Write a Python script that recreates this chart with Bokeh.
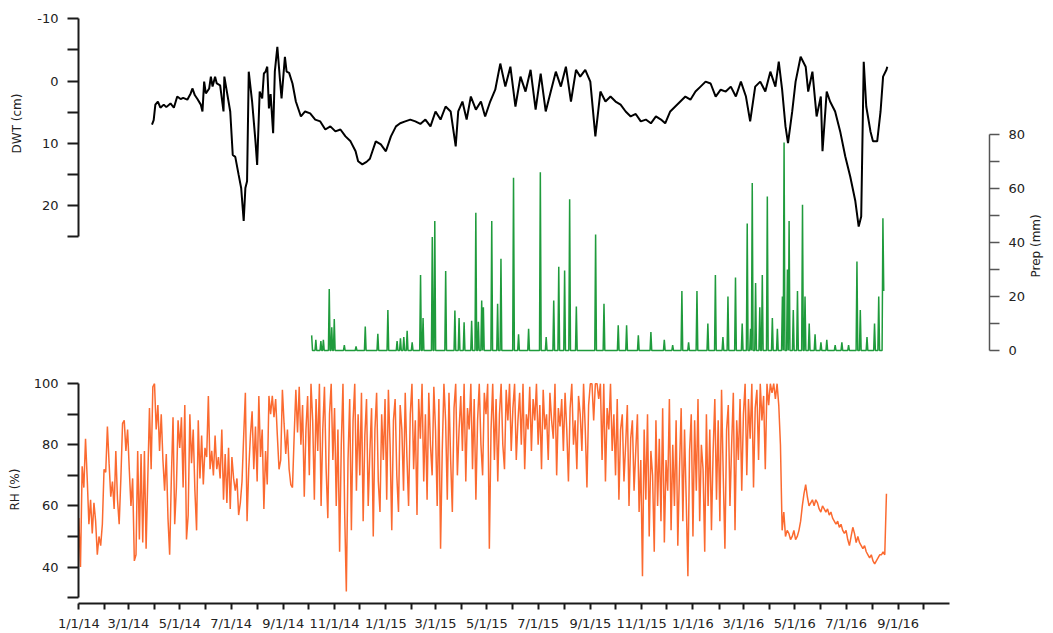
import math
from datetime import date
import numpy as np
from bokeh.plotting import figure
from bokeh.models import Range1d, LinearAxis, FixedTicker
from bokeh.embed import file_html
from bokeh.resources import INLINE

# ---------------- data ----------------
ORIGIN = date(2014, 1, 1)   # x values are days since this date

x_major_dates = ["2014-01-01", "2014-03-01", "2014-05-01", "2014-07-01", "2014-09-01", "2014-11-01",
                 "2015-01-01", "2015-03-01", "2015-05-01", "2015-07-01", "2015-09-01", "2015-11-01",
                 "2016-01-01", "2016-03-01", "2016-05-01", "2016-07-01", "2016-09-01"]
x_tick_labels = ["1/1/14", "3/1/14", "5/1/14", "7/1/14", "9/1/14", "11/1/14",
                 "1/1/15", "3/1/15", "5/1/15", "7/1/15", "9/1/15", "11/1/15",
                 "1/1/16", "3/1/16", "5/1/16", "7/1/16", "9/1/16"]
x_minor_dates = ["2014-02-01", "2014-04-01", "2014-06-01", "2014-08-01", "2014-10-01", "2014-12-01",
                 "2015-02-01", "2015-04-01", "2015-06-01", "2015-08-01", "2015-10-01", "2015-12-01",
                 "2016-02-01", "2016-04-01", "2016-06-01", "2016-08-01", "2016-10-01"]
x_axis_end = "2016-11-01"

dwt_ticks = [-10, 0, 10, 20]
dwt_tick_labels = ["-10", "0", "10", "20"]
prep_ticks = [0, 20, 40, 60, 80]
rh_ticks = [40, 60, 80, 100]

# DWT (cm), positive = below surface
dwt_day = [87, 89, 91, 94, 97, 101, 104, 109, 113, 117, 121, 124, 129, 133, 135, 138, 141, 145, 147, 149,
           151, 155, 157, 159, 162, 164, 168, 172, 173, 176, 180, 183, 186, 190, 193, 196, 198, 200, 202, 206,
           210, 212, 215, 218, 220, 222, 224, 226, 228, 231, 233, 236, 239, 241, 245, 247, 250, 254, 258, 264,
           269, 275, 281, 287, 293, 299, 305, 311, 317, 323, 329, 332, 337, 342, 346, 349, 353, 359, 365, 371,
           377, 382, 388, 394, 400, 406, 412, 418, 424, 430, 436, 442, 448, 451, 456, 461, 466, 472, 478, 483,
           489, 495, 501, 507, 513, 519, 525, 531, 537, 543, 549, 555, 561, 567, 573, 579, 585, 591, 596, 602,
           608, 614, 620, 626, 632, 638, 644, 650, 656, 662, 668, 674, 680, 686, 692, 697, 703, 709, 715, 721,
           727, 733, 739, 745, 751, 757, 763, 769, 775, 781, 787, 793, 798, 804, 810, 816, 822, 828, 832, 836,
           840, 843, 848, 852, 858, 864, 867, 872, 877, 882, 884, 889, 893, 899, 905, 911, 917, 923, 927, 930,
           933, 936, 941, 944, 949, 953, 956, 960, 961]
dwt_cm = [7.0, 6.3, 3.8, 3.3, 4.3, 3.8, 4.2, 3.6, 4.3, 2.5, 2.9, 2.7, 3.0, 2.0, 1.2, 2.3, 2.9, 3.8, 4.9, 0.1,
          2.0, 1.2, -0.7, 0.9, -0.7, 0.4, 0.7, 4.9, -0.7, 1.7, 4.9, 11.9, 12.2, 15.1, 17.2, 22.5, 17.2, 16.1, -1.5, 3.3,
          9.7, 13.5, 1.7, 2.8, -1.2, -1.5, -2.3, 4.4, 2.1, 8.4, -1.5, -5.5, -0.4, 2.8, -3.9, -1.5, -1.3, 0.4, 3.3, 5.7,
          4.9, 5.2, 6.2, 6.5, 7.8, 7.3, 8.1, 7.8, 8.9, 9.7, 11.3, 12.9, 13.4, 13.0, 12.5, 11.3, 9.7, 10.2, 11.3, 8.9,
          7.3, 6.8, 6.5, 6.2, 6.5, 6.9, 6.2, 7.3, 4.9, 6.2, 4.1, 4.9, 10.5, 4.9, 3.3, 6.2, 2.5, 4.6, 3.3, 5.7,
          3.3, 1.4, -2.8, 0.9, -2.3, 4.1, -0.7, 1.7, -1.8, 4.6, -1.2, 4.9, 1.7, -1.5, 0.9, -2.3, 3.3, -1.8, -0.7, -1.8,
          0.1, 8.9, 1.7, 3.3, 2.5, 3.3, 3.8, 4.9, 5.7, 5.3, 6.5, 6.2, 6.8, 5.7, 6.2, 6.8, 4.9, 4.1, 3.3, 2.5,
          3.0, 1.7, 0.9, 0.1, 0.4, 2.5, 1.4, 1.7, 0.9, 2.5, 0.1, 2.5, 6.5, 0.9, 0.1, 1.7, -1.5, 0.9, -3.1, 1.4,
          7.3, 10.0, 4.9, 0.1, -3.9, -2.3, 1.7, -1.5, 5.7, 2.5, 11.3, 1.7, 3.3, 4.9, 8.1, 12.1, 15.4, 19.3, 23.4, 21.8,
          -3.1, 4.1, 8.1, 9.7, 9.7, 4.9, -0.7, -1.8, -2.3]

# Daily precipitation (mm): rain days listed, all other days of the record are 0
prep_first_day, prep_last_day = 278, 961
prep_day = [278, 283, 289, 292, 299, 302, 305, 317, 331, 342, 357, 369, 380, 384, 388, 392, 398, 408, 411, 422,
            425, 438, 449, 454, 460, 469, 474, 477, 481, 483, 493, 500, 504, 519, 525, 537, 551, 558, 567, 573,
            580, 586, 594, 617, 627, 644, 654, 668, 683, 699, 709, 720, 728, 738, 751, 760, 769, 775, 784, 792,
            798, 802, 804, 808, 813, 816, 822, 828, 834, 840, 842, 846, 848, 853, 858, 864, 867, 872, 879, 886,
            893, 903, 911, 919, 929, 933, 941, 950, 955, 960, 961]
prep_mm = [5.6, 4, 3.5, 4, 22.8, 8.6, 11.7, 2, 1.5, 8.9, 6.2, 15, 3.5, 4.5, 5, 7.3, 3, 28, 12, 42,
           48, 29.4, 14.8, 12, 10.5, 11, 51, 10.6, 18.5, 16, 48, 17.3, 34, 64, 6, 8, 66, 5, 18.5, 31,
           29.6, 56, 16.3, 43, 17.3, 9.3, 9.3, 5.6, 6.8, 4, 2, 22, 3, 22, 10, 28, 5, 20, 27, 10,
           47, 8, 62, 25, 16, 28, 57, 12, 8, 20, 77, 30, 48, 15, 22, 54, 20, 10, 6, 3,
           4, 2, 3, 2, 33, 15, 5, 10, 20, 49, 22]

# Relative humidity (%), read every 2 days from 1/1/14
rh_start_day, rh_step_days = 0, 2
rh_values = (
    [56, 40, 73, 66, 82, 69, 54, 62, 51, 61, 55, 44, 50, 47, 54, 72, 71, 86, 74, 63,
     68, 59, 78, 62, 54, 69, 87, 88, 78, 85, 72, 60, 69, 42, 44, 78, 49, 77, 48, 78,
     46, 69, 92, 72, 99, 100, 85, 93, 78, 90, 75, 65, 77, 56, 44, 69, 89, 54, 66, 88,
     79, 89, 66, 93, 49, 57, 90, 74, 85, 65, 52, 88, 69, 83, 67, 79, 76, 96, 72, 78,
     70, 83, 72, 76, 69, 85, 62, 77, 61, 79, 59, 76, 69, 65, 69, 57, 61, 68, 83, 97,
     55, 72, 83, 91, 72, 86, 68, 96, 76, 85, 59, 78, 67, 96, 90, 96, 89, 95, 83, 72,
     75, 98, 87, 77, 85, 72, 67, 66, 83, 98]
    + [84, 99, 80, 93, 63, 85, 96]
    + [70, 100, 88, 62, 95, 78, 100, 60, 85, 99, 72, 56, 90, 100, 75]
    + [92, 60, 85, 45, 80, 100, 58, 32, 75, 95, 52, 88, 100, 65, 90]
    + [70, 97, 55, 83, 95, 60, 78, 92, 50, 85, 97, 68, 58, 90, 75, 95]
    + [62, 98, 80, 52, 88, 95, 70, 58, 93, 85, 65, 97, 76, 60, 90]
    + [100, 72, 88, 57, 95, 82, 100, 68, 90, 62, 97, 80, 70, 99]
    + [85, 60, 95, 46, 78, 100, 88, 62, 97, 75, 58, 92, 100, 70, 85, 96]
    + [78, 100, 68, 92, 85, 100, 72, 95, 62, 88, 100, 80, 70, 97, 90]
    + [100, 46, 85, 100, 75, 95, 68, 90, 100, 80, 72, 98, 88, 100, 78]
    + [92, 100, 75, 88, 97, 80, 100, 72, 90, 85, 99, 78, 95, 88, 100]
    + [80, 93, 72, 98, 85, 90, 75, 97, 88, 82, 100, 70, 92, 86, 95, 78]
    + [97, 85, 68, 92, 100, 80, 88, 72, 96, 90, 78, 100, 85, 66, 93]
    + [100, 100, 88, 100, 100, 95, 100, 75, 100, 68, 92, 85, 100, 78, 90]
    + [70, 95, 62, 85, 90, 68, 80, 93, 60, 82, 88, 65, 78, 90, 58, 75]
    + [37, 85, 62, 90, 50, 78, 70, 45, 88, 60, 82, 55, 92, 48, 75]
    + [65, 95, 52, 80, 60, 88, 47, 72, 92, 55, 85, 62, 37, 78, 90]
    + [50, 88, 65, 95, 55, 80, 72, 45, 90, 60, 85, 52, 78, 95, 62, 88]
    + [55, 98, 70, 46, 85, 93, 60, 80, 97, 52, 88, 75, 95, 65]
    + [90, 100, 70, 95, 82, 100, 66, 92, 98, 75, 100, 88, 96, 72, 100, 93]
    + [100, 97, 100, 95, 100, 93, 80, 52, 58, 50, 52, 51, 49, 50, 52]
    + [49, 50, 52, 55, 60, 64, 67, 63, 60, 61, 62, 60, 62, 61, 59, 58, 60, 59, 58, 59,
       57, 58, 56, 55, 54, 55, 53, 54, 52, 51, 52, 49, 47, 50, 53, 51, 48, 50, 48, 47,
       46, 47, 45, 44, 43, 44, 42, 41, 42, 43, 44, 44, 45, 44, 64]
)

# ---------------- helpers ----------------
def day_of(s):
    return (date.fromisoformat(s) - ORIGIN).days

prep_x = np.arange(prep_first_day, prep_last_day + 1)
prep_y = np.zeros(len(prep_x))
for d, v in zip(prep_day, prep_mm):
    prep_y[d - prep_first_day] = v

rh_x = [rh_start_day + i * rh_step_days for i in range(len(rh_values))]


def span(v_a, y_a, v_b, y_b, frame_top, frame_bottom):
    """(value at frame bottom, value at frame top) so that v_a sits at page y y_a and v_b at y_b"""
    k = (v_b - v_a) / (y_b - y_a)
    return v_a + (frame_bottom - y_a) * k, v_a + (frame_top - y_a) * k


FONT = "DejaVu Sans"
TXT = "#222222"
AX = "#1a1a1a"
GREEN = "#1f9b3c"
ORANGE = "#fb6a30"
W, H = 1053, 633
B_LEFT, B_RIGHT = 78, 60

major_x = [day_of(s) for s in x_major_dates]
minor_x = [day_of(s) for s in x_minor_dates]
PX_PER_DAY = 0.8413
x0 = -0.3 / PX_PER_DAY
xr = Range1d(x0, x0 + (W - B_LEFT - B_RIGHT) / PX_PER_DAY)


def style_axis(ax, color, width, tick_out, lab_off, title_off):
    ax.axis_line_color = color
    ax.axis_line_width = width
    ax.major_tick_line_color = color
    ax.minor_tick_line_color = color
    ax.major_tick_line_width = width
    ax.minor_tick_line_width = width
    ax.major_tick_in = 0
    ax.minor_tick_in = 0
    ax.major_tick_out = tick_out
    ax.minor_tick_out = tick_out
    ax.major_label_text_font = FONT
    ax.major_label_text_font_size = "13px"
    ax.major_label_text_color = TXT
    ax.major_label_standoff = lab_off
    ax.axis_label_text_font = FONT
    ax.axis_label_text_font_size = "12px"
    ax.axis_label_text_font_style = "normal"
    ax.axis_label_text_color = TXT
    ax.axis_label_standoff = title_off


def panel(frame_top, frame_bottom, y_range, opaque):
    """full-page figure whose plotting frame spans page rows frame_top..frame_bottom;
    the panels are stacked over each other at the page origin"""
    p = figure(width=W, height=H, x_range=xr, y_range=y_range,
               x_axis_location=None, y_axis_location=None,
               min_border_left=B_LEFT, min_border_right=B_RIGHT,
               min_border_top=frame_top, min_border_bottom=H - frame_bottom,
               output_backend="svg", toolbar_location=None, outline_line_color=None,
               styles={"position": "absolute", "top": "0px", "left": "0px"})
    p.grid.visible = False
    if not opaque:
        p.background_fill_alpha = 0
        p.border_fill_alpha = 0
    return p


# ---------------- RH panel (bottom, with the date axis) ----------------
rh_top, rh_bot = 375, 606
p_rh = panel(rh_top, rh_bot, Range1d(*span(100, 383.3, 30, 600, rh_top, rh_bot)), True)
ax_rh = LinearAxis(bounds=(30, 100), axis_label="RH (%)",
                   ticker=FixedTicker(ticks=rh_ticks, minor_ticks=[30, 50, 70, 90]))
style_axis(ax_rh, AX, 2, 11, 9, 9)
p_rh.add_layout(ax_rh, "left")

ax_x = LinearAxis(bounds=(0, day_of(x_axis_end)),
                  ticker=FixedTicker(ticks=major_x, minor_ticks=minor_x))
style_axis(ax_x, AX, 2, 6, 6, 0)
ax_x.major_label_overrides = {d: lab for d, lab in zip(major_x, x_tick_labels)}
p_rh.add_layout(ax_x, "below")
p_rh.line(rh_x, rh_values, color=ORANGE, line_width=1.5)

# ---------------- Prep panel (middle, right axis) ----------------
pr_top, pr_bot = 134, 420
p_pr = panel(pr_top, pr_bot, Range1d(*span(80, 134, 0, 350, pr_top, pr_bot)), False)
ax_prep = LinearAxis(bounds=(0, 80), axis_label="Prep (mm)",
                     ticker=FixedTicker(ticks=prep_ticks, minor_ticks=[10, 30, 50, 70]))
style_axis(ax_prep, "#555555", 1.5, 10, 9, 8)
ax_prep.axis_label_orientation = math.pi / 2
p_pr.add_layout(ax_prep, "right")
p_pr.line(prep_x, prep_y, color=GREEN, line_width=1.5)

# ---------------- DWT panel (top, inverted left axis) ----------------
dw_top, dw_bot = 10, 236
p_dw = panel(dw_top, dw_bot, Range1d(*span(-10, 18.3, 25, 236, dw_top, dw_bot)), False)
ax_dwt = LinearAxis(bounds=(-10, 25), axis_label="DWT (cm)",
                    ticker=FixedTicker(ticks=dwt_ticks, minor_ticks=[-5, 5, 15, 25]))
style_axis(ax_dwt, AX, 2, 11, 9, 10)
ax_dwt.major_label_overrides = dict(zip(dwt_ticks, dwt_tick_labels))
p_dw.add_layout(ax_dwt, "left")
p_dw.line(dwt_day, dwt_cm, color="black", line_width=2)

open("out.html", "w").write(file_html([p_rh, p_pr, p_dw], INLINE))
